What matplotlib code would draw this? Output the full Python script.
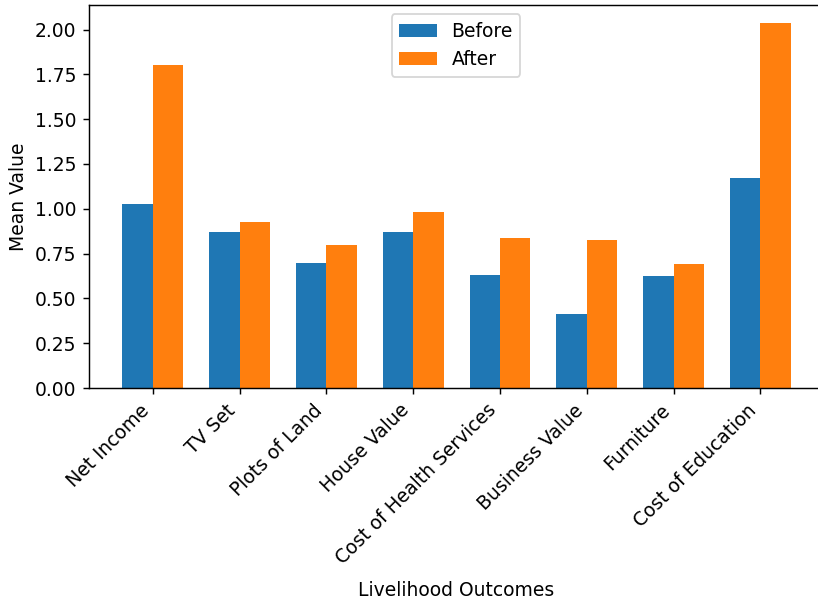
import numpy as np
import matplotlib
matplotlib.use("Agg")
import matplotlib.pyplot as plt

outcomes = ["Net Income", "TV Set", "Plots of Land", "House Value",
            "Cost of Health Services", "Business Value", "Furniture",
            "Cost of Education"]
before = [1.024, 0.870, 0.699, 0.870, 0.628, 0.413, 0.623, 1.173]
after = [1.803, 0.926, 0.799, 0.980, 0.838, 0.823, 0.691, 2.035]

plt.rcParams["font.size"] = 10.4

dpi = 130
fig = plt.figure(figsize=(818 / dpi, 602 / dpi), dpi=dpi)
# axes run past the right edge of the figure, so the right spine is cut off
ax = fig.add_axes([89 / 818, 1 - 388 / 602, 760 / 818, 383 / 602])

x = np.arange(len(outcomes))
width = 0.35
ax.bar(x - width / 2, before, width, label="Before")
ax.bar(x + width / 2, after, width, label="After")
ax.set_xlim(-0.735, -0.735 + 760 / 86.8)
ax.spines["right"].set_visible(False)

ax.set_xticks(x)
ax.set_xticklabels(outcomes, rotation=45, ha="right")
ax.set_ylabel("Mean Value")
ax.set_xlabel("Livelihood Outcomes")
ax.xaxis.set_label_coords((456 - 89) / 760, -0.505)
ax.legend(loc="upper center", bbox_to_anchor=((456 - 89) / 760, 1.0))

fig.savefig("out.png", dpi=dpi)
